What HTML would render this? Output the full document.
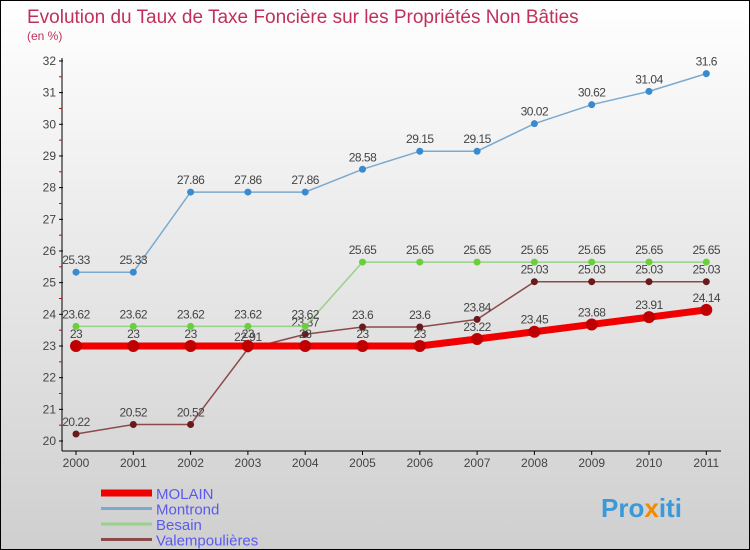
<!DOCTYPE html>
<html><head><meta charset="utf-8"><style>
body{margin:0}
#c{width:748px;height:548px;border:1px solid #000;background:linear-gradient(#fff,#cfcfcf);position:relative;font-family:"Liberation Sans",sans-serif;overflow:hidden}
svg text{font-family:"Liberation Sans",sans-serif}
</style></head><body>
<div id="c">
<svg id="s" width="748" height="548">
<text x="26" y="22" font-size="19" fill="#c0305a">Evolution du Taux de Taxe Foncière sur les Propriétés Non Bâties</text>
<text x="26" y="39" font-size="12" fill="#c0305a">(en %)</text>
<text x="600" y="516" font-size="26" font-weight="bold" fill="#3a9ad9">Pro<tspan fill="#f08a00">x</tspan>iti</text>
</svg>
</div>
<script>
const years=[2000,2001,2002,2003,2004,2005,2006,2007,2008,2009,2010,2011];
const yTicks=[20,21,22,23,24,25,26,27,28,29,30,31,32];
const molain=[23,23,23,23,23,23,23,23.22,23.45,23.68,23.91,24.14];
const montrond=[25.33,25.33,27.86,27.86,27.86,28.58,29.15,29.15,30.02,30.62,31.04,31.6];
const besain=[23.62,23.62,23.62,23.62,23.62,25.65,25.65,25.65,25.65,25.65,25.65,25.65];
const valemp=[20.22,20.52,20.52,22.91,23.37,23.6,23.6,23.84,25.03,25.03,25.03,25.03];
const s=document.getElementById('s');const NS='http://www.w3.org/2000/svg';
const X=i=>75+i*57.3;const Y=v=>440-(v-20)*31.67;
function mk(t,a,p){const e=document.createElementNS(NS,t);for(const k in a)e.setAttribute(k,a[k]);(p||s).appendChild(e);return e;}
let ax=mk('line',{x1:61,y1:57,x2:61,y2:450,stroke:'#000'});


let ax2=mk('line',{x1:61,y1:450,x2:720,y2:450,stroke:'#000'});


yTicks.forEach(v=>{mk('line',{x1:58,y1:Y(v),x2:62,y2:Y(v),stroke:'#000'});
if(v<32)mk('line',{x1:58,y1:Y(v+0.5),x2:61,y2:Y(v+0.5),stroke:'#d00'});
const t=mk('text',{x:55,y:Y(v)+4,'font-size':12,fill:'#444','text-anchor':'end'});t.textContent=v;

});
years.forEach((y,i)=>{mk('line',{x1:X(i),y1:450,x2:X(i),y2:454,stroke:'#000'});
const t=mk('text',{x:X(i),y:466,'font-size':12,fill:'#444','text-anchor':'middle'});t.textContent=y;

});
function series(d,name,col,dot,w,r){
const g=mk('g',{});


mk('polyline',{points:d.map((v,i)=>X(i)+','+Y(v)).join(' '),fill:'none',stroke:col,'stroke-width':w},g);
d.forEach((v,i)=>{const c=mk('circle',{cx:X(i),cy:Y(v),r:r,fill:dot},g);


const t=mk('text',{x:X(i),y:Y(v)-8,'font-size':12,fill:'#444','text-anchor':'middle','letter-spacing':'-0.5'},g);t.textContent=v;});}
series(valemp,'valempoulieres','#8b4a4a','#6a1a1a',1.5,3.5);
series(besain,'besain','#99d08a','#6ad03a',1.5,3.5);
series(montrond,'montrond','#7aaad0','#3a8ad0',1.5,3.5);
series(molain,'molain','#f00000','#c00000',7,6);
const leg=[['MOLAIN','#f00000',7],['Montrond','#7aaad0',3],['Besain','#99d08a',3],['Valempoulières','#8b4a4a',3]];
leg.forEach((l,i)=>{const y=492+i*15.5;
const ln=mk('line',{x1:100,y1:y,x2:151,y2:y,stroke:l[1],'stroke-width':l[2]});


const t=mk('text',{x:155,y:y+6,'font-size':15,fill:'#5a5af0'});t.textContent=l[0];

});
</script>
</body></html>
